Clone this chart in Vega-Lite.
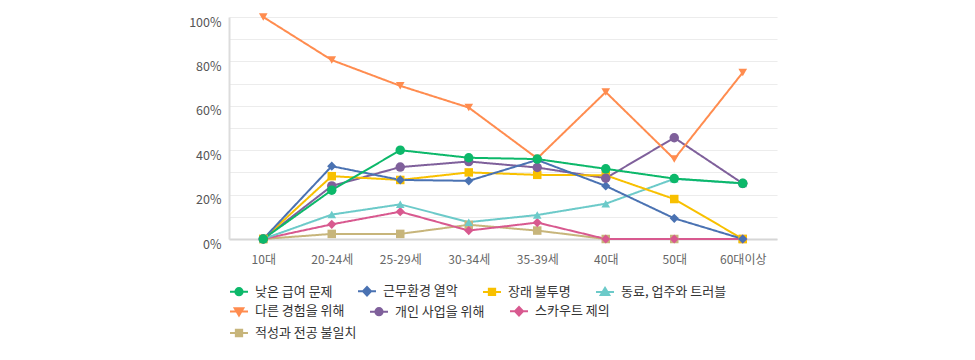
{
  "$schema": "https://vega.github.io/schema/vega-lite/v6.json",
  "width": 548,
  "height": 222,
  "autosize": {"type": "none"},
  "padding": {"left": 229, "top": 17, "right": 198, "bottom": 121},
  "background": "white",
  "config": {
    "view": {"stroke": null},
    "font": "Noto Sans CJK KR",
    "axis": {"labelFont": "Noto Sans CJK KR", "labelFontSize": 12, "labelColor": "#666666", "ticks": false, "title": null},
    "legend": {
      "orient": "none", "direction": "horizontal", "gridAlign": "each", "title": null, "padding": 0,
      "labelFont": "Noto Sans CJK KR", "labelFontSize": 13, "labelColor": "#333333",
      "labelOffset": 6, "columnPadding": 21, "rowPadding": 2,
      "symbolSize": 324, "symbolStrokeWidth": 2, "labelLimit": 200
    }
  },
  "data": {"values": [
    {"age": "10대", "series": "적성과 전공 불일치", "value": 0},
    {"age": "20-24세", "series": "적성과 전공 불일치", "value": 2.3},
    {"age": "25-29세", "series": "적성과 전공 불일치", "value": 2.3},
    {"age": "30-34세", "series": "적성과 전공 불일치", "value": 6.4},
    {"age": "35-39세", "series": "적성과 전공 불일치", "value": 3.8},
    {"age": "40대", "series": "적성과 전공 불일치", "value": 0},
    {"age": "50대", "series": "적성과 전공 불일치", "value": 0},
    {"age": "60대이상", "series": "적성과 전공 불일치", "value": 0},
    {"age": "10대", "series": "스카우트 제의", "value": 0},
    {"age": "20-24세", "series": "스카우트 제의", "value": 6.6},
    {"age": "25-29세", "series": "스카우트 제의", "value": 12.3},
    {"age": "30-34세", "series": "스카우트 제의", "value": 3.8},
    {"age": "35-39세", "series": "스카우트 제의", "value": 7.4},
    {"age": "40대", "series": "스카우트 제의", "value": 0},
    {"age": "50대", "series": "스카우트 제의", "value": 0},
    {"age": "60대이상", "series": "스카우트 제의", "value": 0},
    {"age": "10대", "series": "개인 사업을 위해", "value": 0},
    {"age": "20-24세", "series": "개인 사업을 위해", "value": 23.9},
    {"age": "25-29세", "series": "개인 사업을 위해", "value": 32.4},
    {"age": "30-34세", "series": "개인 사업을 위해", "value": 34.9},
    {"age": "35-39세", "series": "개인 사업을 위해", "value": 32.2},
    {"age": "40대", "series": "개인 사업을 위해", "value": 27.4},
    {"age": "50대", "series": "개인 사업을 위해", "value": 45.6},
    {"age": "60대이상", "series": "개인 사업을 위해", "value": 25},
    {"age": "10대", "series": "다른 경험을 위해", "value": 100},
    {"age": "20-24세", "series": "다른 경험을 위해", "value": 80.6},
    {"age": "25-29세", "series": "다른 경험을 위해", "value": 69},
    {"age": "30-34세", "series": "다른 경험을 위해", "value": 59.2},
    {"age": "35-39세", "series": "다른 경험을 위해", "value": 36.3},
    {"age": "40대", "series": "다른 경험을 위해", "value": 66.2},
    {"age": "50대", "series": "다른 경험을 위해", "value": 36},
    {"age": "60대이상", "series": "다른 경험을 위해", "value": 75},
    {"age": "10대", "series": "동료, 업주와 트러블", "value": 0},
    {"age": "20-24세", "series": "동료, 업주와 트러블", "value": 11},
    {"age": "25-29세", "series": "동료, 업주와 트러블", "value": 15.6},
    {"age": "30-34세", "series": "동료, 업주와 트러블", "value": 7.6},
    {"age": "35-39세", "series": "동료, 업주와 트러블", "value": 10.8},
    {"age": "40대", "series": "동료, 업주와 트러블", "value": 15.9},
    {"age": "50대", "series": "동료, 업주와 트러블", "value": 27.1},
    {"age": "60대이상", "series": "동료, 업주와 트러블", "value": 25},
    {"age": "10대", "series": "장래 불투명", "value": 0},
    {"age": "20-24세", "series": "장래 불투명", "value": 28.3},
    {"age": "25-29세", "series": "장래 불투명", "value": 26.6},
    {"age": "30-34세", "series": "장래 불투명", "value": 30},
    {"age": "35-39세", "series": "장래 불투명", "value": 28.9},
    {"age": "40대", "series": "장래 불투명", "value": 28.7},
    {"age": "50대", "series": "장래 불투명", "value": 18},
    {"age": "60대이상", "series": "장래 불투명", "value": 0},
    {"age": "10대", "series": "근무환경 열악", "value": 0},
    {"age": "20-24세", "series": "근무환경 열악", "value": 32.8},
    {"age": "25-29세", "series": "근무환경 열악", "value": 26.6},
    {"age": "30-34세", "series": "근무환경 열악", "value": 26.2},
    {"age": "35-39세", "series": "근무환경 열악", "value": 35.6},
    {"age": "40대", "series": "근무환경 열악", "value": 23.9},
    {"age": "50대", "series": "근무환경 열악", "value": 9.3},
    {"age": "60대이상", "series": "근무환경 열악", "value": 0},
    {"age": "10대", "series": "낮은 급여 문제", "value": 0},
    {"age": "20-24세", "series": "낮은 급여 문제", "value": 22},
    {"age": "25-29세", "series": "낮은 급여 문제", "value": 40},
    {"age": "30-34세", "series": "낮은 급여 문제", "value": 36.6},
    {"age": "35-39세", "series": "낮은 급여 문제", "value": 36},
    {"age": "40대", "series": "낮은 급여 문제", "value": 31.6},
    {"age": "50대", "series": "낮은 급여 문제", "value": 27.2},
    {"age": "60대이상", "series": "낮은 급여 문제", "value": 25.1}
  ]},
  "encoding": {
    "x": {
      "field": "age", "type": "ordinal",
      "scale": {"type": "point", "padding": 0.5, "domain": ["10대", "20-24세", "25-29세", "30-34세", "35-39세", "40대", "50대", "60대이상"]},
      "axis": {"labelAngle": 0, "labelPadding": 15, "domainColor": "#d6d6d6", "domainWidth": 2, "grid": false}
    },
    "y": {
      "field": "value", "type": "quantitative",
      "scale": {"domain": [0, 100], "nice": false},
      "axis": {
        "values": [0, 10, 20, 30, 40, 50, 60, 70, 80, 90, 100],
        "labelExpr": "datum.value % 20 === 0 ? datum.value + '%' : ''",
        "labelPadding": 8, "labelOffset": 5, "labelFontSize": 12.5, "labelColor": "#555555",
        "grid": true, "gridColor": "#ececec", "gridWidth": 1.2,
        "domainColor": "#dcdcdc", "domainWidth": 2
      }
    },
    "color": {
      "field": "series", "type": "nominal",
      "scale": {
        "domain": ["낮은 급여 문제", "근무환경 열악", "장래 불투명", "동료, 업주와 트러블", "다른 경험을 위해", "개인 사업을 위해", "스카우트 제의", "적성과 전공 불일치"],
        "range": ["#0cb86a", "#4a72b2", "#f8c000", "#6ccac9", "#ff8c4f", "#7f609b", "#d8598f", "#c7b57b"]
      },
      "legend": {
        "legendX": 0, "legendY": 264, "columns": 4,
        "values": ["낮은 급여 문제", "근무환경 열악", "장래 불투명", "동료, 업주와 트러블"],
        "encode": {
          "symbols": {
            "update": {
              "shape": {"signal": "{'낮은 급여 문제': 'M-1,0H1M0.4,0A0.4,0.4,0,1,1,-0.4,0A0.4,0.4,0,1,1,0.4,0Z', '근무환경 열악': 'M-1,0H1M0,-0.48L0.45,0L0,0.48L-0.45,0Z', '장래 불투명': 'M-1,0H1M-0.35,-0.35H0.35V0.35H-0.35Z', '동료, 업주와 트러블': 'M-1,0H1M0,-0.45L0.48,0.35L-0.48,0.35Z'}[datum.value]"},
              "fill": {"scale": "color", "field": "value"},
              "stroke": {"scale": "color", "field": "value"},
              "strokeWidth": {"value": 2},
              "size": {"value": 324},
              "opacity": {"value": 1}
            }
          }
        }
      }
    },
    "opacity": {
      "field": "series", "type": "nominal",
      "scale": {"type": "ordinal", "domain": ["적성과 전공 불일치", "스카우트 제의", "개인 사업을 위해", "다른 경험을 위해", "동료, 업주와 트러블", "장래 불투명", "근무환경 열악", "낮은 급여 문제"], "range": [1, 1, 1, 1, 1, 1, 1, 1]},
      "legend": {
        "legendX": 0, "legendY": 284, "columns": 3,
        "values": ["다른 경험을 위해", "개인 사업을 위해", "스카우트 제의"],
        "encode": {
          "symbols": {
            "update": {
              "shape": {"signal": "{'다른 경험을 위해': 'M-1,0H1M0,0.45L0.48,-0.35L-0.48,-0.35Z', '개인 사업을 위해': 'M-1,0H1M0.4,0A0.4,0.4,0,1,1,-0.4,0A0.4,0.4,0,1,1,0.4,0Z', '스카우트 제의': 'M-1,0H1M0,-0.48L0.45,0L0,0.48L-0.45,0Z'}[datum.value]"},
              "fill": {"scale": "color", "field": "value"},
              "stroke": {"scale": "color", "field": "value"},
              "strokeWidth": {"value": 2},
              "size": {"value": 324}
            }
          }
        }
      }
    },
    "strokeDash": {
      "field": "series", "type": "nominal",
      "scale": {"type": "ordinal", "domain": ["적성과 전공 불일치", "낮은 급여 문제", "근무환경 열악", "장래 불투명", "동료, 업주와 트러블", "다른 경험을 위해", "개인 사업을 위해", "스카우트 제의"], "range": [[1, 0], [1, 0], [1, 0], [1, 0], [1, 0], [1, 0], [1, 0], [1, 0]]},
      "legend": {
        "legendX": 0, "legendY": 306, "columns": 1,
        "values": ["적성과 전공 불일치"],
        "encode": {
          "symbols": {
            "update": {
              "shape": {"value": "M-1,0H1M-0.35,-0.35H0.35V0.35H-0.35Z"},
              "fill": {"scale": "color", "field": "value"},
              "stroke": {"scale": "color", "field": "value"},
              "strokeWidth": {"value": 2},
              "size": {"value": 324},
              "opacity": {"value": 1}
            }
          }
        }
      }
    }
  },
  "layer": [
    {"mark": {"type": "line", "strokeWidth": 2}},
    {
      "transform": [{"filter": {"field": "series", "oneOf": ["적성과 전공 불일치", "장래 불투명"]}}],
      "mark": {"type": "point", "shape": "square", "filled": true, "size": 72}
    },
    {
      "transform": [{"filter": {"field": "series", "oneOf": ["스카우트 제의", "근무환경 열악"]}}],
      "mark": {"type": "point", "shape": "diamond", "filled": true, "size": 85}
    },
    {
      "transform": [{"filter": {"field": "series", "equal": "다른 경험을 위해"}}],
      "mark": {"type": "point", "shape": "triangle-down", "filled": true, "size": 75}
    },
    {
      "transform": [{"filter": {"field": "series", "equal": "동료, 업주와 트러블"}}],
      "mark": {"type": "point", "shape": "triangle-up", "filled": true, "size": 75}
    },
    {
      "transform": [{"filter": {"field": "series", "oneOf": ["개인 사업을 위해", "낮은 급여 문제"]}}],
      "mark": {"type": "point", "shape": "circle", "filled": true, "size": 90}
    }
  ]
}
